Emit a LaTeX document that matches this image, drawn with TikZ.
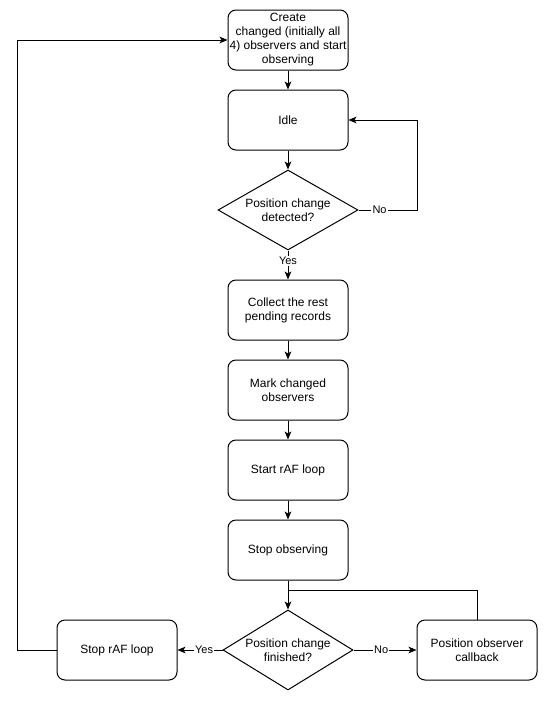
\documentclass[tikz,border=0pt]{standalone}
\usepackage{fontspec}
\setmainfont{Liberation Sans}
\usetikzlibrary{shapes.geometric,arrows.meta}
\begin{document}
\begin{tikzpicture}[x=0.75pt,y=-0.75pt,
  box/.style={draw,rounded corners=6pt,line width=0.75pt,minimum width=90pt,minimum height=45pt,inner sep=0pt,align=center,font=\fontsize{9}{10.5}\selectfont},
  dia/.style={draw,diamond,line width=0.75pt,minimum height=60pt,inner sep=0pt,align=center,font=\fontsize{9}{10.5}\selectfont},
  lbl/.style={fill=white,inner sep=0.8pt,font=\fontsize{8.25}{9}\selectfont},
  arr/.style={line width=0.75pt,-{Stealth[length=6pt,width=5pt,inset=1.5pt]}},
  ln/.style={line width=0.75pt}]
\useasboundingbox (0,0) rectangle (548,701);
\node[box] (create) at (288,40) {Create\\changed (initially all\\4) observers and start\\observing};
\node[box] (idle) at (288,120) {Idle};
\node[dia,minimum width=105pt,shape aspect=1.75] (d1) at (288,210) {Position change\\detected?};
\node[box] (collect) at (288,310) {Collect the rest\\pending records};
\node[box] (mark) at (288,390) {Mark changed\\observers};
\node[box] (start) at (288,470) {Start rAF loop};
\node[box] (stopobs) at (288,550) {Stop observing};
\node[dia,minimum width=97.5pt,shape aspect=1.625] (d2) at (288,650) {Position change\\finished?};
\node[box] (stopraf) at (117,650) {Stop rAF loop};
\node[box] (cb) at (477,650) {Position observer\\callback};
\coordinate (c1) at (417,210);
\coordinate (j) at (288,590);
\coordinate (c2) at (17,650);
\draw[arr] (create) -- (idle);
\draw[arr] (idle) -- (d1);
\draw[arr] (d1.east) -- node[lbl,pos=0.36]{No} (c1) |- (idle.east);
\draw[arr] (d1.south) -- node[lbl,pos=0.37]{Yes} (collect.north);
\draw[arr] (collect) -- (mark);
\draw[arr] (mark) -- (start);
\draw[arr] (start) -- (stopobs);
\draw[arr] (stopobs.south) -- (d2.north);
\draw[ln] (cb.north) |- (j);
\draw[arr] (d2.west) -- node[lbl,pos=0.41]{Yes} (stopraf.east);
\draw[arr] (d2.east) -- node[lbl,pos=0.44]{No} (cb.west);
\draw[arr] (stopraf.west) -- (c2) |- (create.west);
\end{tikzpicture}
\end{document}
